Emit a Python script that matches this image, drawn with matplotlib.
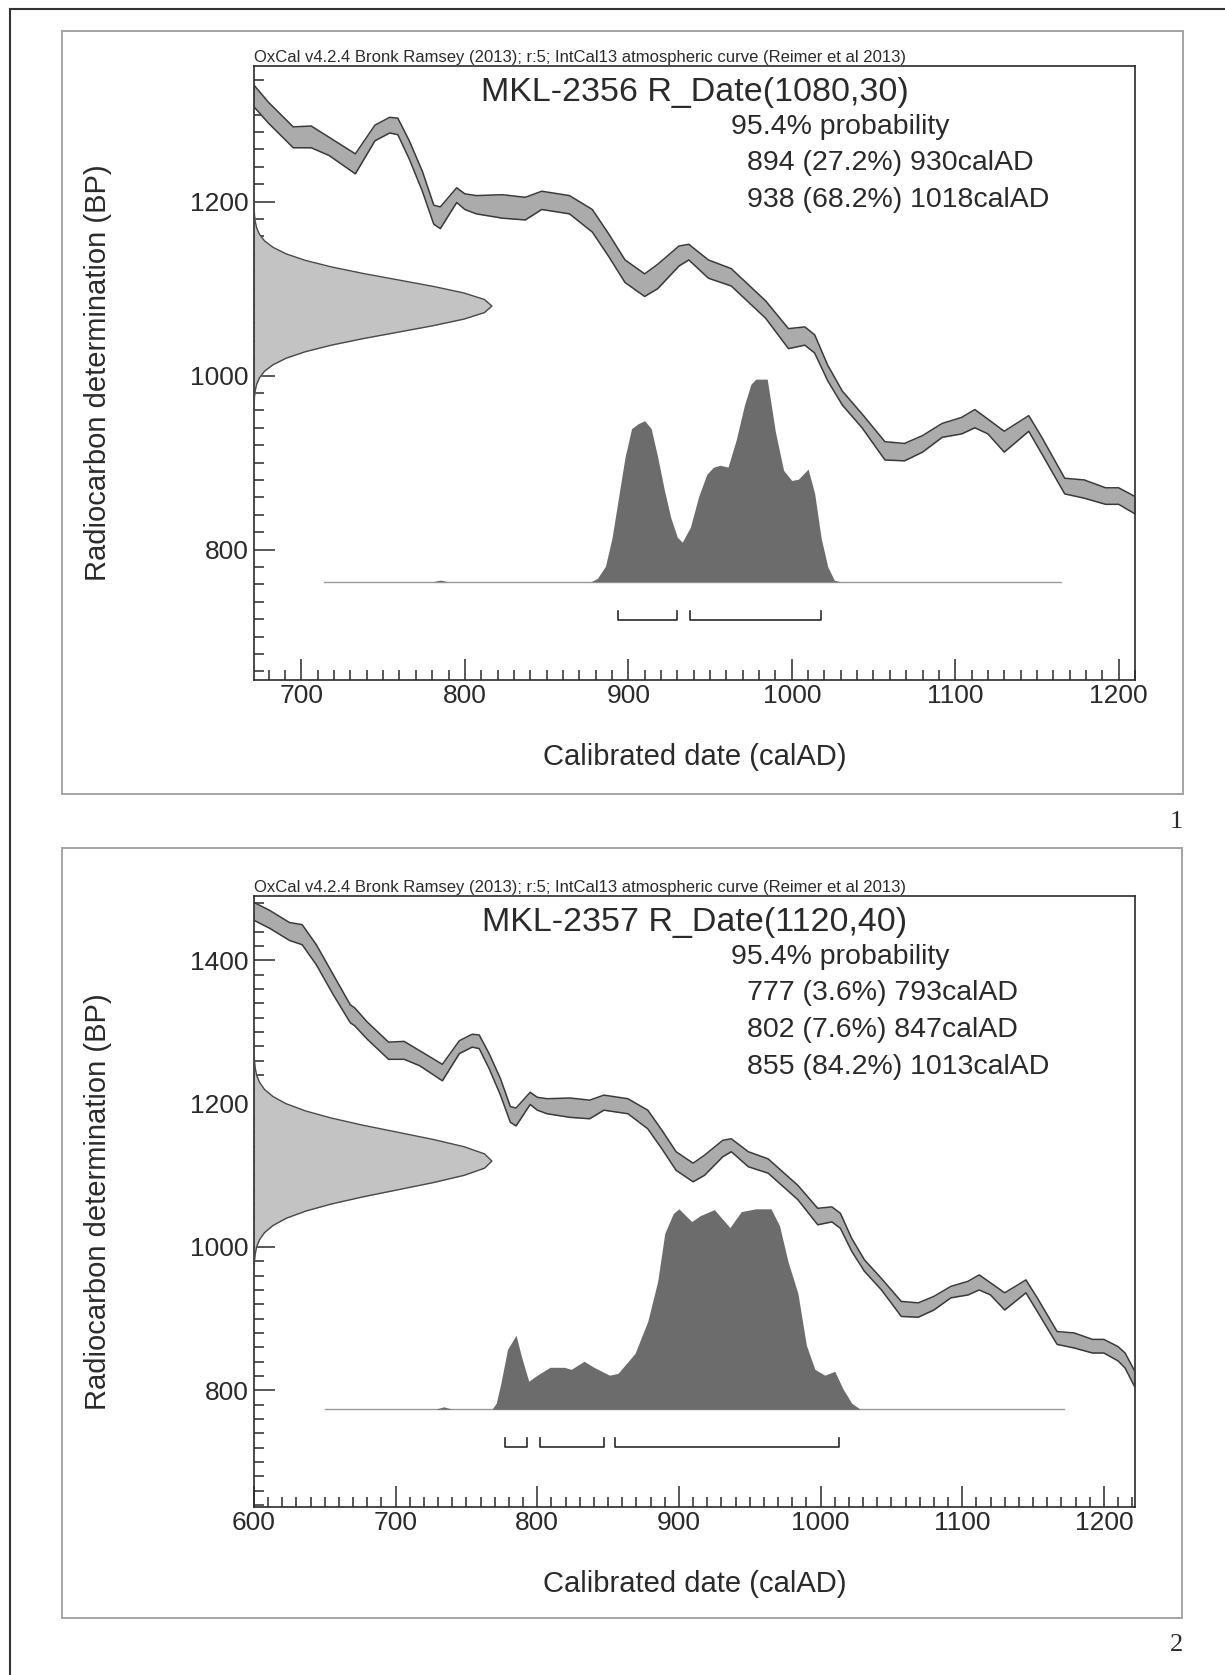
import numpy as np
import matplotlib.pyplot as plt
from matplotlib.ticker import MultipleLocator
from matplotlib.patches import Rectangle
from matplotlib.lines import Line2D

plt.rcParams['font.family'] = ['Liberation Sans', 'DejaVu Sans']

# IntCal13 band (cal AD, upper / lower BP)
curve_year = [600, 611, 625, 634, 644, 656, 668, 671, 680, 695, 706, 717, 733, 745, 754, 759, 766, 774, 781, 785,
              795, 800, 807, 823, 837, 847, 864, 878, 888, 898, 910, 918, 931, 937, 949, 963, 984, 998, 1008, 1014,
              1022, 1031, 1043, 1057, 1069, 1080, 1092, 1104, 1112, 1120, 1130, 1145, 1153, 1167, 1179, 1192, 1200,
              1210, 1215, 1222]
curve_hi = [1481, 1470, 1453, 1450, 1422, 1380, 1338, 1334, 1314, 1286, 1287, 1274, 1255, 1288, 1297, 1296, 1270, 1235,
            1196, 1194, 1216, 1209, 1207, 1208, 1205, 1212, 1207, 1191, 1163, 1133, 1117, 1128, 1149, 1151, 1133, 1123,
            1086, 1054, 1056, 1047, 1012, 982, 956, 924, 922, 931, 945, 952, 961, 950, 936, 954, 929, 882, 880, 871,
            871, 861, 852, 826]
curve_lo = [1456, 1445, 1428, 1422, 1394, 1352, 1313, 1309, 1290, 1262, 1262, 1253, 1232, 1270, 1279, 1277, 1249, 1212,
            1174, 1169, 1199, 1191, 1186, 1181, 1179, 1191, 1186, 1165, 1137, 1107, 1091, 1100, 1126, 1133, 1112, 1103,
            1066, 1031, 1035, 1026, 994, 966, 940, 903, 902, 912, 929, 933, 940, 933, 912, 936, 910, 864, 859, 852,
            852, 841, 831, 804]

# half profile of the R_Date curve (offset in sd, relative width)
rdate_steps = [0, 0.25, 0.5, 0.75, 1.0, 1.25, 1.5, 1.75, 2.0, 2.25, 2.5, 2.75, 3.0, 3.25, 3.5, 3.75, 4.0]
rdate_shape = [1.0, 0.969, 0.883, 0.755, 0.607, 0.458, 0.325, 0.216, 0.135, 0.080, 0.044, 0.023, 0.011, 0.005,
               0.002, 0.001, 0.0]

header = 'OxCal v4.2.4 Bronk Ramsey (2013); r:5; IntCal13 atmospheric curve (Reimer et al 2013)'
sample_names = ['MKL-2356', 'MKL-2357']
rdate_mean = [1080, 1120]
rdate_sd = [30, 40]

# calibrated probability (relative), panel 1
post1_year = [714, 780, 785, 790, 877, 881, 886, 890, 894, 898, 902, 906, 910, 914, 918, 922, 926, 930, 933, 938,
              943, 948, 952, 956, 961, 966, 971, 975, 978, 985, 990, 995, 1000, 1004, 1010, 1014, 1018, 1022, 1026,
              1030, 1165]
post1_prob = [0, 0, 0.008, 0, 0, 0.016, 0.076, 0.215, 0.415, 0.615, 0.756, 0.78, 0.795, 0.756, 0.615, 0.455, 0.316,
              0.22, 0.195, 0.27, 0.42, 0.53, 0.565, 0.575, 0.566, 0.7, 0.87, 0.975, 1.0, 1.0, 0.74, 0.55, 0.5, 0.506,
              0.556, 0.436, 0.215, 0.075, 0.008, 0, 0]
# panel 2
post2_year = [650, 728, 734, 740, 768, 771, 774, 779, 785, 789, 794, 800, 809, 819, 824, 833, 840, 851, 857, 869,
              878, 885, 890, 896, 900, 909, 915, 925, 936, 944, 954, 965, 971, 977, 984, 990, 996, 1003, 1010, 1016,
              1022, 1028, 1172]
post2_prob = [0, 0, 0.012, 0, 0, 0.03, 0.119, 0.297, 0.367, 0.257, 0.139, 0.169, 0.208, 0.208, 0.198, 0.238, 0.208,
              0.169, 0.178, 0.277, 0.436, 0.634, 0.872, 0.971, 0.994, 0.931, 0.96, 0.99, 0.901, 0.98, 0.994, 0.994,
              0.911, 0.733, 0.575, 0.317, 0.198, 0.169, 0.188, 0.099, 0.03, 0, 0]

range1_from = [894, 938]
range1_to = [930, 1018]
range1_pct = [27.2, 68.2]
range2_from = [777, 802, 855]
range2_to = [793, 847, 1013]
range2_pct = [3.6, 7.6, 84.2]

W, H = 1225, 1675
BAND = '#ababab'
EDGE = '#3a3a3a'
DARK = '#6c6c6c'
INK = '#2a2a2a'


def fig_rect(l, t, r, b):
    return [l / W, 1 - b / H, (r - l) / W, (b - t) / H]


def draw_panel(ax, hpx, xlim, ylim, ymaj, name, mean, sd, px, pp, r_from, r_to, r_pct):
    # calibration curve
    ax.fill_between(curve_year, curve_lo, curve_hi, color=BAND, lw=0, zorder=2)
    ax.plot(curve_year, curve_hi, color=EDGE, lw=1.1, zorder=3)
    ax.plot(curve_year, curve_lo, color=EDGE, lw=1.1, zorder=3)

    # radiocarbon date on the y axis
    steps = np.array(rdate_steps)
    shape = np.array(rdate_shape)
    t = np.concatenate([-steps[::-1], steps[1:]])
    w = np.concatenate([shape[::-1], shape[1:]]) * 0.27
    yy = mean + sd * t
    ytr = ax.get_yaxis_transform()
    ax.fill_betweenx(yy, 0, w, transform=ytr, color='#c3c3c3', lw=0, zorder=2)
    ax.plot(w, yy, transform=ytr, color='#4a4a4a', lw=1.0, zorder=3)

    # calibrated distribution
    xtr = ax.get_xaxis_transform()
    base, peak = 0.16, 0.33
    px = np.array(px)
    pp = np.array(pp)
    ax.plot([px[0], px[-1]], [base, base], transform=xtr, color='#9c9c9c', lw=1.0, zorder=3)
    ax.fill_between(px, base, base + peak * pp, transform=xtr, color=DARK, lw=0, zorder=4)

    # range brackets
    br, bt = 0.098, 0.015
    for a, b in zip(r_from, r_to):
        ax.plot([a, a, b, b], [br + bt, br, br, br + bt], transform=xtr, color=INK, lw=1.2, zorder=4)

    ax.set_xlim(*xlim)
    ax.set_ylim(*ylim)

    ax.xaxis.set_major_locator(MultipleLocator(100))
    ax.xaxis.set_minor_locator(MultipleLocator(10))
    ax.yaxis.set_major_locator(MultipleLocator(200))
    ax.yaxis.set_minor_locator(MultipleLocator(20))
    ax.set_yticks(ymaj)
    ax.tick_params(which='both', direction='in', top=False, right=False, color=INK, width=1.1)
    ax.tick_params(which='major', length=15, labelsize=19, labelcolor=INK)
    ax.tick_params(axis='x', which='major', pad=3)
    ax.tick_params(axis='y', which='major', pad=4)
    ax.tick_params(which='minor', length=7)
    for s in ax.spines.values():
        s.set_color(INK)
        s.set_linewidth(1.2)

    ax.set_xlabel('Calibrated date (calAD)', fontsize=21, color=INK, va='center')
    ax.xaxis.set_label_coords(0.5, -77 / hpx)
    ax.set_ylabel('Radiocarbon determination (BP)', fontsize=21, color=INK, va='center')
    ax.yaxis.set_label_coords(-156 / 881, 0.5)

    ax.text(0.0, 1 + 4 / hpx, header, transform=ax.transAxes, fontsize=12, color=INK, va='baseline', ha='left')
    ax.text(0.5, 1 - 26 / hpx, f'{name} R_Date({mean},{sd})', transform=ax.transAxes,
            fontsize=24.5, color=INK, ha='center', va='center')
    ax.text(0.541, 1 - 61 / hpx, '95.4% probability', transform=ax.transAxes,
            fontsize=20.5, color=INK, ha='left', va='center')
    for i, (a, b, p) in enumerate(zip(r_from, r_to, r_pct)):
        ax.text(0.56, 1 - (97.5 + 36.5 * i) / hpx, f'{a} ({p}%) {b}calAD', transform=ax.transAxes,
                fontsize=20.5, color=INK, ha='left', va='center')


fig = plt.figure(figsize=(12.25, 16.75), dpi=100)
fig.patch.set_facecolor('white')

ax1 = fig.add_axes(fig_rect(254, 66, 1135, 680))
ax2 = fig.add_axes(fig_rect(254, 896, 1135, 1507))

draw_panel(ax1, 614, (671, 1210), (650, 1356), [800, 1000, 1200], sample_names[0], rdate_mean[0], rdate_sd[0],
           post1_year, post1_prob, range1_from, range1_to, range1_pct)
draw_panel(ax2, 611, (600, 1222), (637, 1490), [800, 1000, 1200, 1400], sample_names[1], rdate_mean[1], rdate_sd[1],
           post2_year, post2_prob, range2_from, range2_to, range2_pct)

# panel frames and page border
for (l, t, r, b) in [(62, 31, 1183, 794), (62, 848, 1182, 1618)]:
    fig.add_artist(Rectangle((l / W, 1 - b / H), (r - l) / W, (b - t) / H, transform=fig.transFigure,
                             fill=False, edgecolor='#a3a3a3', lw=1.4))
fig.add_artist(Line2D([10 / W, 10 / W], [0, 1 - 9 / H], transform=fig.transFigure, color='#333333', lw=1.5))
fig.add_artist(Line2D([10 / W, 1], [1 - 9 / H, 1 - 9 / H], transform=fig.transFigure, color='#333333', lw=1.5))

fig.text(1183 / W, 1 - 822 / H, '1', ha='right', va='center', fontsize=19, family='Liberation Serif', color=INK)
fig.text(1183 / W, 1 - 1645 / H, '2', ha='right', va='center', fontsize=19, family='Liberation Serif', color=INK)

fig.savefig('out.png', dpi=100, facecolor='white')
